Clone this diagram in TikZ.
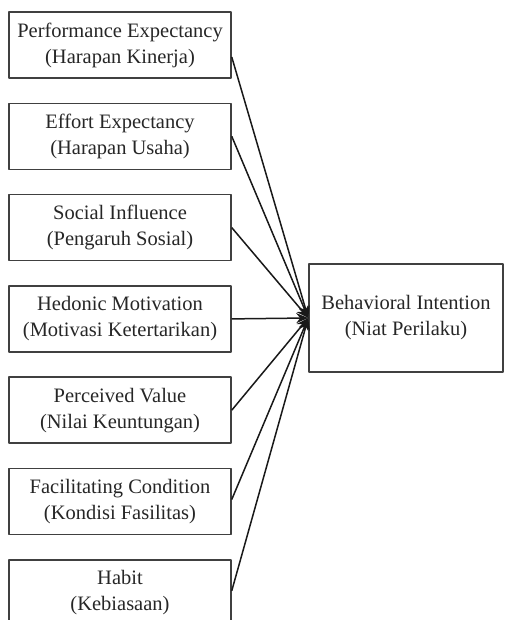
\documentclass[tikz,border=0pt]{standalone}
\usepackage{fontspec}
\setmainfont{Liberation Serif}
\usetikzlibrary{arrows.meta}

\begin{document}
\begin{tikzpicture}[x=1pt, y=-1pt, line join=round, >={Stealth[length=12pt,width=10pt]},
	font=\fontsize{20.5}{26}\selectfont,
	konstruk/.style={draw=black!75, line width=1.5pt, text=black!85, align=center,
		minimum width=222pt, minimum height=66pt, inner sep=0pt},
	hasil/.style={konstruk, minimum width=194pt, minimum height=108pt},
	jalur/.style={->, line width=1.5pt, black!90}]
	\useasboundingbox (0,0) rectangle (505,620);
	
	\node[hasil] (BI) at (406,318) {Behavioral Intention\\(Niat Perilaku)};
	
	\foreach \i/\teks/\geser in {
		1/{Performance Expectancy\\(Harapan Kinerja)}/12,
		2/{Effort Expectancy\\(Harapan Usaha)}/0,
		3/{Social Influence\\(Pengaruh Sosial)}/0,
		4/{Hedonic Motivation\\(Motivasi Ketertarikan)}/0,
		5/{Perceived Value\\(Nilai Keuntungan)}/0,
		6/{Facilitating Condition\\(Kondisi Fasilitas)}/-2,
		7/{Habit\\(Kebiasaan)}/-2}
	{
		\node[konstruk] (K\i) at (120,{45+91.3*(\i-1)}) {\teks};
		\draw[jalur] ([yshift=-\geser pt]K\i.east) -- (BI.west);
	}
\end{tikzpicture}
\end{document}
